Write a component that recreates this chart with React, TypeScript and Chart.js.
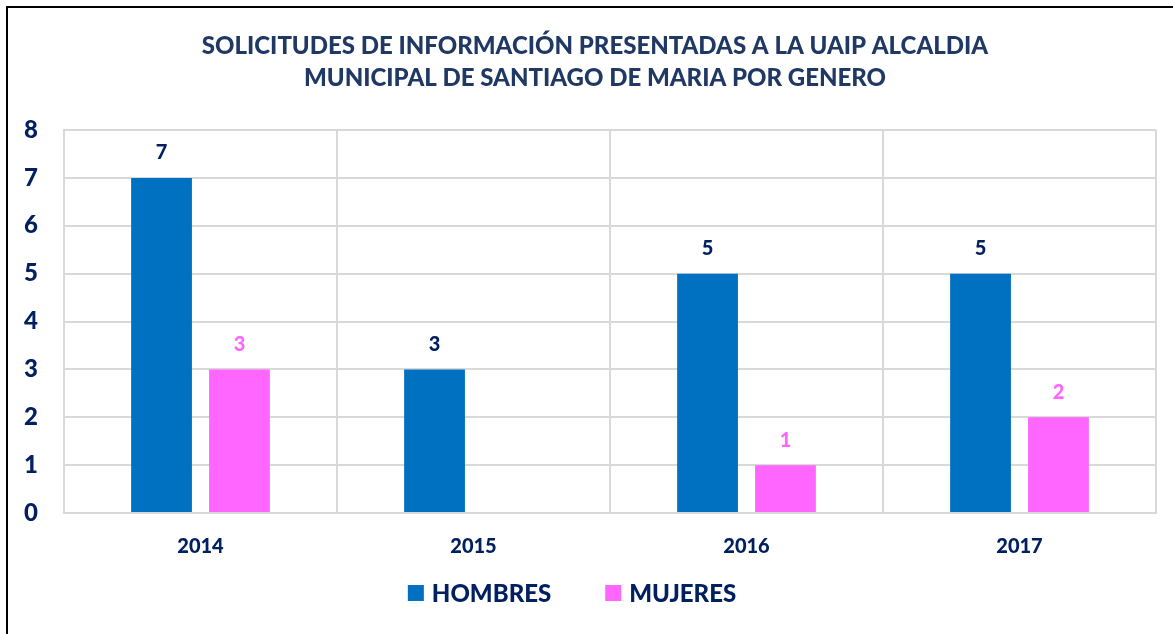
import React, { useEffect, useRef } from "react";
import { Chart, registerables } from "chart.js";

Chart.register(...registerables);

const titleLines = [
  "SOLICITUDES DE INFORMACIÓN PRESENTADAS A LA UAIP ALCALDIA",
  "MUNICIPAL DE SANTIAGO DE MARIA POR GENERO",
];
const years = ["2014", "2015", "2016", "2017"];
const hombres = [7, 3, 5, 5];
const mujeres = [3, 0, 1, 2];
const yTicks = [0, 1, 2, 3, 4, 5, 6, 7, 8];

const NAVY = "#002060";
const TITLE = "#1f3864";
const BLUE = "#0070c0";
const PINK = "#ff66ff";
const FONT = "Lato, 'Open Sans', sans-serif";
const W = "900";

const labelPlugin = {
  id: "barLabels",
  afterDatasetsDraw(chart: any) {
    const ctx = chart.ctx;
    ctx.save();
    ctx.font = `${W} 20px ${FONT}`;
    ctx.textAlign = "center";
    ctx.textBaseline = "middle";
    chart.data.datasets.forEach((ds: any, di: number) => {
      const meta = chart.getDatasetMeta(di);
      ctx.fillStyle = di === 0 ? NAVY : PINK;
      meta.data.forEach((bar: any, i: number) => {
        const v = ds.data[i];
        if (!v) return;
        ctx.fillText(String(v), bar.x, bar.y - 25);
      });
    });
    ctx.restore();
  },
};

const titlePlugin = {
  id: "customTitle",
  afterDraw(chart: any) {
    const ctx = chart.ctx;
    ctx.save();
    ctx.font = `${W} 24px ${FONT}`;
    ctx.textAlign = "center";
    ctx.textBaseline = "middle";
    ctx.fillStyle = TITLE;
    titleLines.forEach((line, i) => {
      ctx.fillText(line, 595, 46 + i * 32);
    });
    ctx.restore();
  },
};

const legendPlugin = {
  id: "customLegend",
  afterDraw(chart: any) {
    const ctx = chart.ctx;
    ctx.save();
    ctx.font = `${W} 24px ${FONT}`;
    ctx.textBaseline = "middle";
    ctx.textAlign = "left";
    const box = 16;
    const gapBoxText = 8;
    const gapItems = 54;
    const items = chart.data.datasets.map((ds: any) => ({
      text: ds.label,
      color: ds.backgroundColor,
      w: ctx.measureText(ds.label).width,
    }));
    let total = 0;
    items.forEach((it: any, i: number) => {
      total += box + gapBoxText + it.w + (i > 0 ? gapItems : 0);
    });
    const cy = 593;
    let x = 572 - total / 2;
    items.forEach((it: any) => {
      ctx.fillStyle = it.color;
      ctx.fillRect(x, cy - box / 2, box, box);
      x += box + gapBoxText;
      ctx.fillStyle = NAVY;
      ctx.fillText(it.text, x, cy + 1);
      x += it.w + gapItems;
    });
    ctx.restore();
  },
};

export default function App() {
  const ref = useRef<HTMLCanvasElement>(null);
  useEffect(() => {
    if (!ref.current) return;
    const chart = new Chart(ref.current, {
      type: "bar",
      data: {
        labels: years,
        datasets: [
          { label: "HOMBRES", data: hombres, backgroundColor: BLUE },
          { label: "MUJERES", data: mujeres, backgroundColor: PINK },
        ],
      },
      options: {
        animation: false,
        responsive: false,
        maintainAspectRatio: false,
        layout: { padding: { left: 0, right: 17, top: 130, bottom: 53 } },
        datasets: {
          bar: { barPercentage: 0.78, categoryPercentage: 0.571 },
        } as any,
        plugins: {
          title: { display: false },
          legend: { display: false },
          tooltip: { enabled: false },
        },
        scales: {
          x: {
            grid: { color: "#d9d9d9", lineWidth: 2, drawTicks: false, offset: true },
            border: { color: "#d9d9d9", width: 2 },
            ticks: {
              color: NAVY,
              font: { family: FONT, size: 20, weight: W as any },
              padding: 22,
            },
          },
          y: {
            min: 0,
            max: 8,
            afterBuildTicks: (scale: any) => {
              scale.ticks = yTicks.map((v) => ({ value: v }));
            },
            afterFit: (scale: any) => {
              scale.width = 64;
            },
            grid: { color: "#d9d9d9", lineWidth: 2, drawTicks: false },
            border: { color: "#d9d9d9", width: 2 },
            ticks: {
              color: NAVY,
              font: { family: FONT, size: 24, weight: W as any },
              padding: 26,
            },
          },
        },
      },
      plugins: [labelPlugin, titlePlugin, legendPlugin],
    });
    return () => chart.destroy();
  }, []);

  return (
    <div style={{ position: "absolute", left: 0, top: 0, width: 1173, height: 634, overflow: "hidden", background: "#fff" }}>
      <canvas ref={ref} width={1173} height={634} style={{ position: "absolute", left: 0, top: 0 }} />
      <div
        style={{
          position: "absolute",
          left: 6,
          top: 6,
          width: 1200,
          height: 700,
          borderLeft: "2px solid #000",
          borderTop: "2px solid #000",
          pointerEvents: "none",
        }}
      />
    </div>
  );
}
